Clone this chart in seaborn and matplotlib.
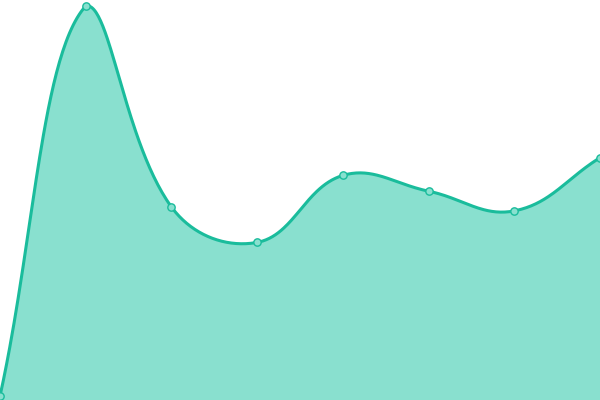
import numpy as np
import pandas as pd
import matplotlib
matplotlib.use("Agg")
import matplotlib.pyplot as plt
import seaborn as sns

# Data
categories = ["A", "B", "C", "D", "E", "F", "G", "H"]
values = [1, 100, 49, 40, 57, 53, 48, 61.5]

LINE = "#1abc9c"
FILL = "#89e0cf"

sns.set_theme(style="white")
fig = plt.figure(figsize=(6, 4), dpi=100)
ax = fig.add_axes([0, 0, 1, 1])
ax.set_xlim(0, len(categories) - 1)
ax.set_ylim(0, 100 * 400 / 394)
ax.axis("off")

df = pd.DataFrame({"cat": categories, "x": np.arange(len(categories)), "v": values})

# Chart.js style spline (tension 0.4) computed in display space
pts = ax.transData.transform(np.column_stack([df["x"], df["v"]]))
n = len(pts)
t = 0.4
cps_prev = np.zeros_like(pts)
cps_next = np.zeros_like(pts)
for i in range(n):
    p = pts[max(i - 1, 0)]
    c = pts[i]
    nx = pts[min(i + 1, n - 1)]
    d01 = np.hypot(*(c - p))
    d12 = np.hypot(*(nx - c))
    tot = d01 + d12
    s01 = d01 / tot if tot else 0
    s12 = d12 / tot if tot else 0
    cps_prev[i] = c - t * s01 * (nx - p)
    cps_next[i] = c + t * s12 * (nx - p)
# cap control points to chart area
bbox = ax.bbox
for arr in (cps_prev, cps_next):
    arr[:, 0] = np.clip(arr[:, 0], bbox.x0, bbox.x1)
    arr[:, 1] = np.clip(arr[:, 1], bbox.y0, bbox.y1)

curve = []
tt = np.linspace(0, 1, 60)
for i in range(n - 1):
    P0, P1, P2, P3 = pts[i], cps_next[i], cps_prev[i + 1], pts[i + 1]
    seg = ((1 - tt) ** 3)[:, None] * P0 + (3 * (1 - tt) ** 2 * tt)[:, None] * P1 \
        + (3 * (1 - tt) * tt ** 2)[:, None] * P2 + (tt ** 3)[:, None] * P3
    curve.append(seg if i == 0 else seg[1:])
curve = np.vstack(curve)
curve_data = ax.transData.inverted().transform(curve)
cx, cy = curve_data[:, 0], curve_data[:, 1]

ax.fill_between(cx, 0, cy, color=FILL, linewidth=0, zorder=1)
sns.lineplot(x=cx, y=cy, ax=ax, color=LINE, linewidth=2.2, zorder=2, sort=False)
sns.scatterplot(data=df, x="x", y="v", ax=ax, s=28, color=FILL, edgecolor=LINE,
                linewidth=1.0, zorder=3, clip_on=False)
ax.set_xlim(0, len(categories) - 1)
ax.set_ylim(0, 100 * 400 / 394)
ax.axis("off")

fig.savefig("out.png", dpi=100)
